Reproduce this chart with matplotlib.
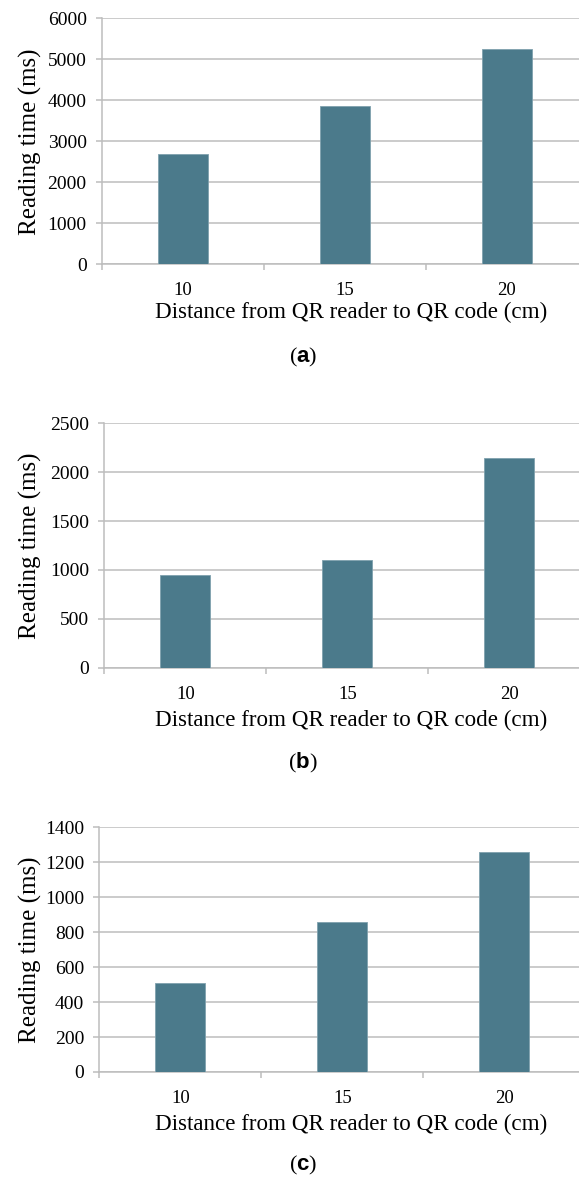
import matplotlib.pyplot as plt
import numpy as np

plt.rcParams['font.family'] = ['Liberation Serif', 'DejaVu Serif']
plt.rcParams['mathtext.fontset'] = 'custom'
plt.rcParams['mathtext.bf'] = 'Liberation Sans:bold'

# data
distances = ['10', '15', '20']
time_a = [2700, 3860, 5250]
time_b = [950, 1100, 2150]
time_c = [510, 860, 1260]
ymax = [6000, 2500, 1400]
ystep = [1000, 500, 200]
captions = ['a', 'b', 'c']

W, H = 579, 1177
fig = plt.figure(figsize=(W / 100, H / 100), dpi=100)

# pixel layout of each panel: left, top, bottom of plot area, xlabel y, caption y
panels = [(102, 18.3, 264.3, 312, 357),
          (104.3, 423.3, 667.7, 720, 763),
          (99.3, 827.3, 1072, 1124, 1165)]
spacing = 162.0  # px between categories

bar_color = '#4b7a8b'
grid_color = '#bdbdbd'

for vals, top_val, step, cap, (left, top, bottom, xl_y, cap_y) in zip(
        [time_a, time_b, time_c], ymax, ystep, captions, panels):
    ax = fig.add_axes([left / W, 1 - bottom / H, (W - left) / W, (bottom - top) / H])
    x = np.arange(len(distances))
    ax.bar(x, vals, width=0.31, color=bar_color, edgecolor='#7fa1ae',
           linewidth=0.6, zorder=3)
    ax.set_xlim(-0.5, -0.5 + (W - left) / spacing)
    ax.set_ylim(0, top_val)
    ax.set_yticks(np.arange(0, top_val + 1, step))
    ax.yaxis.grid(True, color=grid_color, linewidth=1.1, zorder=0)
    ax.set_xticks(x)
    ax.set_xticklabels(distances)
    ax.set_xticks([-0.5, 0.5, 1.5], minor=True)
    ax.tick_params(axis='x', which='major', length=0, pad=13, labelsize=13.5)
    ax.tick_params(axis='x', which='minor', length=4, color=grid_color, width=1.1)
    ax.tick_params(axis='y', length=4, color=grid_color, width=1.1, pad=7, labelsize=14)
    for s in ['top', 'right']:
        ax.spines[s].set_visible(False)
    for s in ['left', 'bottom']:
        ax.spines[s].set_color(grid_color)
        ax.spines[s].set_linewidth(1.1)
    ax.set_ylabel('Reading time (ms)', fontsize=18)
    ax.yaxis.set_label_coords(-(left - 30) / (W - left), 0.5)
    ax.set_xlabel('Distance from QR reader to QR code (cm)', fontsize=16.6)
    ax.xaxis.set_label_coords((351 - left) / (W - left),
                              -(xl_y - bottom) / (bottom - top))
    ax.xaxis.label.set_va('center')
    ax.yaxis.label.set_va('center')
    fig.text(303 / W, 1 - cap_y / H, r'($\mathbf{%s}$)' % cap, fontsize=16,
             ha='center', va='center')

fig.savefig('out.png', dpi=100)
